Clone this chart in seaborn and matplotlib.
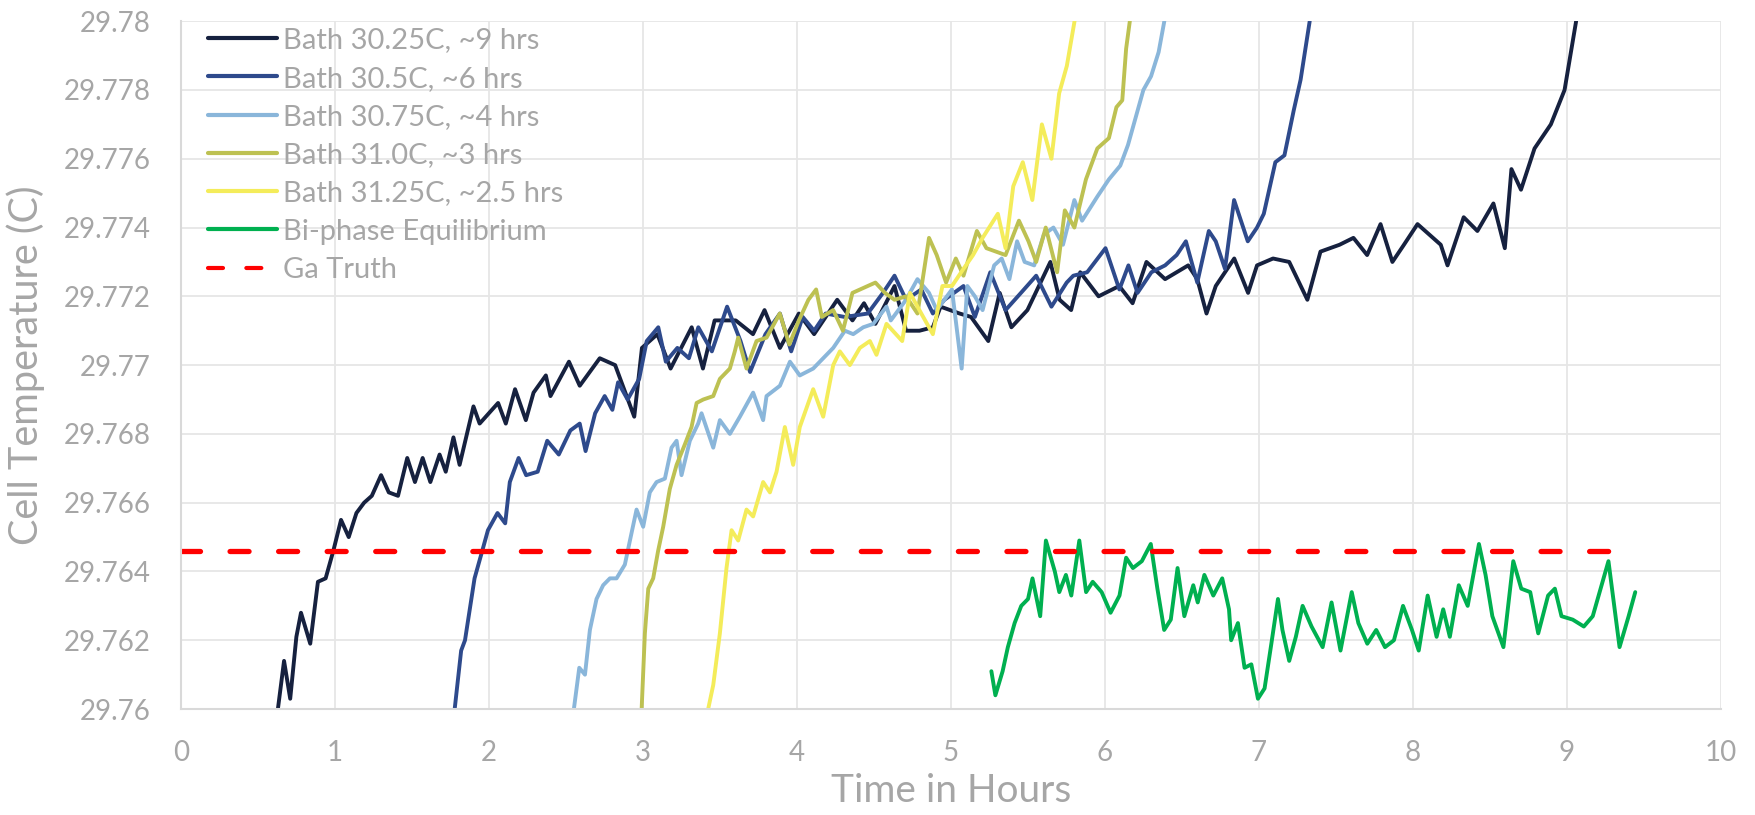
import pandas as pd
import matplotlib
matplotlib.use('Agg')
import matplotlib.pyplot as plt
import seaborn as sns


# values (hours, degC)
bath_3025_h = [0.63, 0.67, 0.71, 0.75, 0.78, 0.84, 0.89, 0.94, 0.99, 1.04, 1.09, 1.14, 1.19, 1.24,
               1.30, 1.35, 1.41, 1.47, 1.52, 1.57, 1.62, 1.68, 1.72, 1.77, 1.81, 1.90, 1.94, 2.06,
               2.11, 2.17, 2.24, 2.29, 2.37, 2.40, 2.52, 2.59, 2.72, 2.82, 2.944, 2.994, 3.094, 3.18,
               3.317, 3.39, 3.466, 3.603, 3.715, 3.79, 3.89, 4.013, 4.112, 4.262, 4.361, 4.436, 4.51,
               4.634, 4.709, 4.796, 4.883, 4.933, 5.057, 5.131, 5.243, 5.317, 5.393, 5.497, 5.646,
               5.706, 5.781, 5.84, 5.959, 6.093, 6.18, 6.27, 6.391, 6.541, 6.60, 6.66, 6.72, 6.84,
               6.93, 6.988, 7.092, 7.197, 7.315, 7.40, 7.524, 7.614, 7.703, 7.79, 7.867, 7.942, 8.03,
               8.181, 8.225, 8.33, 8.419, 8.523, 8.597, 8.64, 8.702, 8.79, 8.896, 8.985, 9.06]
bath_3025_t = [29.7600, 29.7614, 29.7603, 29.7621, 29.7628, 29.7619, 29.7637, 29.7638, 29.7646,
               29.7655, 29.7650, 29.7657, 29.7660, 29.7662, 29.7668, 29.7663, 29.7662, 29.7673,
               29.7666, 29.7673, 29.7666, 29.7674, 29.7669, 29.7679, 29.7671, 29.7688, 29.7683,
               29.7689, 29.7683, 29.7693, 29.7684, 29.7692, 29.7697, 29.7691, 29.7701, 29.7694,
               29.7702, 29.7700, 29.7685, 29.7705, 29.7709, 29.7699, 29.7711, 29.7699, 29.7713,
               29.7713, 29.7709, 29.7716, 29.7705, 29.7715, 29.7709, 29.7719, 29.7713, 29.7718,
               29.7712, 29.7723, 29.7710, 29.7710, 29.7711, 29.7717, 29.7715, 29.7714, 29.7707,
               29.7721, 29.7711, 29.7716, 29.7730, 29.7719, 29.7716, 29.7727, 29.7720, 29.7723,
               29.7718, 29.7730, 29.7725, 29.7729, 29.7725, 29.7715, 29.7723, 29.7731, 29.7721,
               29.7729, 29.7731, 29.7730, 29.7719, 29.7733, 29.7735, 29.7737, 29.7732, 29.7741,
               29.7730, 29.7735, 29.7741, 29.7735, 29.7729, 29.7743, 29.7739, 29.7747, 29.7734,
               29.7757, 29.7751, 29.7763, 29.7770, 29.7780, 29.7800]

bath_305_h = [1.778, 1.82, 1.845, 1.907, 1.957, 1.994, 2.056, 2.106, 2.136, 2.193, 2.242, 2.317,
              2.379, 2.454, 2.529, 2.59, 2.628, 2.69, 2.752, 2.802, 2.839, 2.901, 2.976, 3.025,
              3.10, 3.149, 3.224, 3.299, 3.36, 3.448, 3.547, 3.634, 3.696, 3.796, 3.89, 3.963,
              4.038, 4.112, 4.187, 4.311, 4.46, 4.559, 4.634, 4.709, 4.808, 4.883, 4.958, 5.082,
              5.156, 5.256, 5.355, 5.455, 5.554, 5.653, 5.752, 5.795, 5.885, 6.004, 6.094, 6.153,
              6.212, 6.302, 6.391, 6.466, 6.526, 6.60, 6.675, 6.72, 6.78, 6.839, 6.928, 6.988,
              7.032, 7.107, 7.166, 7.226, 7.271, 7.33]
bath_305_t = [29.7600, 29.7617, 29.7620, 29.7638, 29.7646, 29.7652, 29.7657, 29.7654, 29.7666,
              29.7673, 29.7668, 29.7669, 29.7678, 29.7674, 29.7681, 29.7683, 29.7675, 29.7686,
              29.7691, 29.7687, 29.7695, 29.7690, 29.7696, 29.7707, 29.7711, 29.7701, 29.7705,
              29.7702, 29.7711, 29.7704, 29.7717, 29.7707, 29.7698, 29.7709, 29.7715, 29.7704,
              29.7714, 29.7710, 29.7715, 29.7714, 29.7715, 29.7721, 29.7726, 29.7719, 29.7722,
              29.7715, 29.7719, 29.7723, 29.7714, 29.7727, 29.7716, 29.7721, 29.7726, 29.7717,
              29.7724, 29.7726, 29.7727, 29.7734, 29.7722, 29.7729, 29.7721, 29.7727, 29.7729,
              29.7732, 29.7736, 29.7724, 29.7739, 29.7736, 29.7728, 29.7748, 29.7736, 29.7740,
              29.7744, 29.7759, 29.7761, 29.7774, 29.7783, 29.7800]

bath_3075_h = [2.552, 2.587, 2.624, 2.656, 2.699, 2.742, 2.786, 2.829, 2.883, 2.916, 2.959, 3.002,
               3.045, 3.089, 3.143, 3.186, 3.219, 3.251, 3.305, 3.359, 3.381, 3.457, 3.50, 3.565,
               3.63, 3.716, 3.781, 3.803, 3.89, 3.955, 4.019, 4.106, 4.171, 4.236, 4.312, 4.366,
               4.431, 4.496, 4.582, 4.61, 4.709, 4.783, 4.858, 4.908, 5.007, 5.07, 5.107, 5.156,
               5.206, 5.281, 5.33, 5.38, 5.43, 5.479, 5.541, 5.604, 5.666, 5.728, 5.802, 5.852,
               5.951, 6.026, 6.10, 6.15, 6.25, 6.30, 6.349, 6.386]
bath_3075_t = [29.7600, 29.7612, 29.7610, 29.7623, 29.7632, 29.7636, 29.7638, 29.7638, 29.7642,
               29.7649, 29.7658, 29.7653, 29.7663, 29.7666, 29.7667, 29.7676, 29.7678, 29.7668,
               29.7678, 29.7683, 29.7686, 29.7676, 29.7684, 29.7680, 29.7685, 29.7692, 29.7684,
               29.7691, 29.7694, 29.7701, 29.7697, 29.7699, 29.7702, 29.7705, 29.7710, 29.7709,
               29.7711, 29.7712, 29.7717, 29.7713, 29.7719, 29.7725, 29.7721, 29.7716, 29.7722,
               29.7699, 29.7723, 29.7720, 29.7716, 29.7729, 29.7731, 29.7725, 29.7736, 29.7730,
               29.7729, 29.7738, 29.7740, 29.7735, 29.7748, 29.7742, 29.7749, 29.7754, 29.7758,
               29.7764, 29.7780, 29.7784, 29.7791, 29.7800]

bath_310_h = [2.992, 3.013, 3.035, 3.067, 3.099, 3.132, 3.175, 3.219, 3.273, 3.316, 3.349, 3.392,
              3.457, 3.50, 3.565, 3.597, 3.619, 3.673, 3.738, 3.803, 3.889, 3.951, 4.013, 4.075,
              4.125, 4.162, 4.236, 4.299, 4.361, 4.46, 4.51, 4.572, 4.634, 4.709, 4.783, 4.858,
              4.908, 4.969, 5.032, 5.082, 5.169, 5.231, 5.293, 5.355, 5.442, 5.504, 5.554, 5.616,
              5.69, 5.74, 5.802, 5.877, 5.951, 6.026, 6.075, 6.113, 6.138, 6.162]
bath_310_t = [29.7600, 29.7622, 29.7635, 29.7638, 29.7646, 29.7653, 29.7664, 29.7671, 29.7677,
              29.7682, 29.7689, 29.7690, 29.7691, 29.7696, 29.7699, 29.7704, 29.7708, 29.7699,
              29.7707, 29.7708, 29.7715, 29.7706, 29.7713, 29.7719, 29.7722, 29.7714, 29.7716,
              29.7710, 29.7721, 29.7723, 29.7724, 29.7721, 29.7719, 29.7720, 29.7715, 29.7737,
              29.7732, 29.7724, 29.7731, 29.7726, 29.7739, 29.7734, 29.7733, 29.7732, 29.7742,
              29.7736, 29.7730, 29.7740, 29.7727, 29.7745, 29.7740, 29.7754, 29.7763, 29.7766,
              29.7775, 29.7777, 29.7792, 29.7800]

bath_3125_h = [3.424, 3.457, 3.50, 3.543, 3.576, 3.619, 3.673, 3.716, 3.781, 3.825, 3.868, 3.922,
               3.976, 4.019, 4.106, 4.171, 4.236, 4.279, 4.344, 4.409, 4.474, 4.517, 4.582, 4.684,
               4.734, 4.808, 4.883, 4.945, 5.007, 5.082, 5.144, 5.206, 5.305, 5.355, 5.405, 5.467,
               5.529, 5.591, 5.653, 5.703, 5.753, 5.803]
bath_3125_t = [29.7600, 29.7607, 29.7622, 29.7641, 29.7652, 29.7649, 29.7658, 29.7656, 29.7666,
               29.7663, 29.7669, 29.7682, 29.7671, 29.7682, 29.7693, 29.7685, 29.7700, 29.7704,
               29.7700, 29.7705, 29.7707, 29.7703, 29.7712, 29.7707, 29.7721, 29.7715, 29.7709,
               29.7723, 29.7723, 29.7728, 29.7732, 29.7737, 29.7744, 29.7734, 29.7752, 29.7759,
               29.7748, 29.7770, 29.7760, 29.7779, 29.7787, 29.7800]

biphase_h = [5.263, 5.289, 5.336, 5.37, 5.414, 5.457, 5.501, 5.53, 5.58, 5.617, 5.675, 5.704,
             5.747, 5.782, 5.834, 5.878, 5.921, 5.979, 6.037, 6.095, 6.138, 6.182, 6.24, 6.298,
             6.341, 6.385, 6.428, 6.472, 6.516, 6.574, 6.603, 6.646, 6.704, 6.762, 6.806, 6.82,
             6.864, 6.907, 6.951, 6.994, 7.037, 7.081, 7.124, 7.153, 7.197, 7.24, 7.284, 7.342,
             7.414, 7.472, 7.53, 7.603, 7.646, 7.704, 7.762, 7.819, 7.877, 7.936, 7.994, 8.038,
             8.096, 8.154, 8.197, 8.24, 8.298, 8.356, 8.429, 8.472, 8.516, 8.588, 8.652, 8.704,
             8.762, 8.814, 8.878, 8.922, 8.965, 9.038, 9.11, 9.168, 9.27, 9.342, 9.401, 9.444]
biphase_t = [29.7611, 29.7604, 29.7611, 29.7618, 29.7625, 29.7630, 29.7632, 29.7638, 29.7627,
             29.7649, 29.7640, 29.7634, 29.7639, 29.7633, 29.7649, 29.7634, 29.7637, 29.7634,
             29.7628, 29.7633, 29.7644, 29.7641, 29.7643, 29.7648, 29.7635, 29.7623, 29.7626,
             29.7641, 29.7627, 29.7636, 29.7631, 29.7639, 29.7633, 29.7638, 29.7629, 29.7620,
             29.7625, 29.7612, 29.7613, 29.7603, 29.7606, 29.7619, 29.7632, 29.7623, 29.7614,
             29.7621, 29.7630, 29.7624, 29.7618, 29.7631, 29.7617, 29.7634, 29.7625, 29.7619,
             29.7623, 29.7618, 29.7620, 29.7630, 29.7623, 29.7617, 29.7633, 29.7621, 29.7629,
             29.7621, 29.7636, 29.7630, 29.7648, 29.7639, 29.7627, 29.7618, 29.7643, 29.7635,
             29.7634, 29.7622, 29.7633, 29.7635, 29.7627, 29.7626, 29.7624, 29.7627, 29.7643,
             29.7618, 29.7627, 29.7634]

ga_truth_h = [0.0, 9.3]
ga_truth_t = [29.7646, 29.7646]

series_labels = ['Bath 30.25C, ~9 hrs', 'Bath 30.5C, ~6 hrs', 'Bath 30.75C, ~4 hrs',
                 'Bath 31.0C, ~3 hrs', 'Bath 31.25C, ~2.5 hrs', 'Bi-phase Equilibrium']
series_colors = ['#16213F', '#2E4A8C', '#8AB6DA', '#BDC152', '#F4EC5A', '#00B050']

x_ticks = [0, 1, 2, 3, 4, 5, 6, 7, 8, 9, 10]
y_ticks = [29.76, 29.762, 29.764, 29.766, 29.768, 29.77, 29.772, 29.774, 29.776, 29.778, 29.78]

GREY = '#A6A6A6'


def build_frame():
    hours = [bath_3025_h, bath_305_h, bath_3075_h, bath_310_h, bath_3125_h, biphase_h]
    temps = [bath_3025_t, bath_305_t, bath_3075_t, bath_310_t, bath_3125_t, biphase_t]
    frames = []
    for lab, h, t in zip(series_labels, hours, temps):
        frames.append(pd.DataFrame({'hours': h, 'temp': t, 'series': lab}))
    return pd.concat(frames, ignore_index=True)


def make_plot():
    sns.set_theme(style='white')
    plt.rcParams['font.family'] = ['Lato', 'DejaVu Sans']

    df = build_frame()
    fig = plt.figure(figsize=(17.56, 8.15), dpi=100)
    ax = fig.add_axes([0.103, 0.130, 0.877, 0.844])

    for lab, col in zip(series_labels, series_colors):
        sub = df[df['series'] == lab]
        sns.lineplot(data=sub, x='hours', y='temp', color=col, linewidth=2.8,
                     estimator=None, sort=False, label=lab, ax=ax)

    truth = pd.DataFrame({'hours': ga_truth_h, 'temp': ga_truth_t})
    sns.lineplot(data=truth, x='hours', y='temp', color='#FF0000', linewidth=3.8,
                 estimator=None, label='Ga Truth', ax=ax)
    ga_line = ax.lines[-1]
    ga_line.set_dashes([3.6, 5.6])
    ga_line.set_dash_capstyle('round')

    ax.set_xlim(0, 10)
    ax.set_ylim(29.76, 29.78)
    ax.set_xticks(x_ticks)
    ax.set_yticks(y_ticks)
    ax.set_xticklabels([str(v) for v in x_ticks])
    ax.set_yticklabels([f'{v:.3f}'.rstrip('0') for v in y_ticks])
    ax.tick_params(axis='both', length=0, labelsize=20, labelcolor=GREY)
    ax.tick_params(axis='x', pad=22)
    ax.tick_params(axis='y', pad=22)
    ax.grid(True, color='#E6E6E6', linewidth=1.3)
    for side in ['top', 'right']:
        ax.spines[side].set_visible(False)
    for side in ['left', 'bottom']:
        ax.spines[side].set_color('#D9D9D9')
        ax.spines[side].set_linewidth(1.5)

    ax.set_xlabel('Time in Hours', fontsize=28, color=GREY, labelpad=5)
    ax.set_ylabel('Cell Temperature (C)', fontsize=28.5, color=GREY, labelpad=13)

    leg = ax.legend(loc='upper left', frameon=False, fontsize=21, handlelength=2.38,
                    handletextpad=0.2, labelspacing=0.42, borderaxespad=0.0,
                    bbox_to_anchor=(0.01, 1.008))
    for txt in leg.get_texts():
        txt.set_color(GREY)
    for hl in leg.get_lines():
        hl.set_linewidth(3.0)

    fig.savefig('out.png', dpi=100)
    plt.close(fig)


if __name__ == "__main__":
    make_plot()
